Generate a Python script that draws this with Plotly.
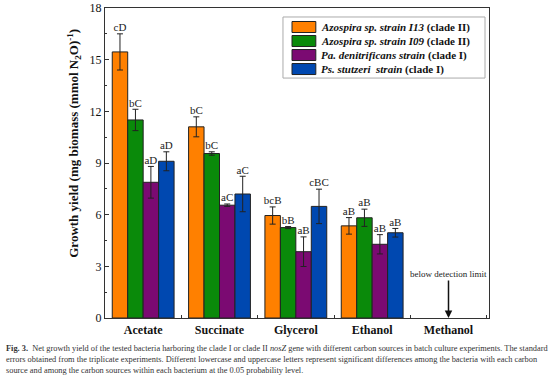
import plotly.graph_objects as go

categories = ["Acetate", "Succinate", "Glycerol", "Ethanol", "Methanol"]
series_names = [
    "<b><i>Azospira sp. strain I13</i> (clade II)</b>",
    "<b><i>Azospira sp. strain I09</i> (clade II)</b>",
    "<b><i>Pa. denitrificans strain</i> (clade I)</b>",
    "<b><i>Ps. stutzeri  strain</i> (clade I)</b>",
]
colors = ["#FF8000", "#0A8A0A", "#7B0A72", "#0048B0"]

i13_vals = [15.45, 11.10, 5.95, 5.35, None]
i13_err = [1.05, 0.58, 0.50, 0.48, None]
i09_vals = [11.50, 9.55, 5.25, 5.82, None]
i09_err = [0.62, 0.10, 0.06, 0.50, None]
pa_vals = [7.88, 6.55, 3.85, 4.28, None]
pa_err = [0.92, 0.07, 0.86, 0.56, None]
ps_vals = [9.10, 7.20, 6.48, 4.95, None]
ps_err = [0.55, 1.03, 1.00, 0.25, None]

i13_lbl = ["cD", "bC", "bcB", "aB", None]
i09_lbl = ["bC", "bC", "bB", "aB", None]
pa_lbl = ["aD", "aC", "aB", "aB", None]
ps_lbl = ["aD", "aC", "cBC", "aB", None]

values = [i13_vals, i09_vals, pa_vals, ps_vals]
errors = [i13_err, i09_err, pa_err, ps_err]
labels = [i13_lbl, i09_lbl, pa_lbl, ps_lbl]

serif = "Liberation Serif"
GAP = 0.19

fig = go.Figure()
for k in range(4):
    fig.add_trace(go.Bar(
        x=categories, y=values[k], name=series_names[k],
        marker=dict(color=colors[k], line=dict(color="#222222", width=1)),
        error_y=dict(type="data", array=errors[k], visible=True,
                     color="#222222", thickness=1, width=3),
        offsetgroup=str(k), showlegend=False,
    ))
for k in range(4):
    xs, tops, txt = [], [], []
    for c, v, e, t in zip(categories, values[k], errors[k], labels[k]):
        if v is None or t is None:
            continue
        xs.append(c)
        tops.append(v + e)
        txt.append(t)
    fig.add_trace(go.Scatter(
        x=xs, y=tops, mode="text", text=txt,
        textposition="top center",
        textfont=dict(family=serif, size=11, color="#222222"),
        showlegend=False, hoverinfo="skip", offsetgroup=str(k),
    ))

fig.update_layout(
    width=554, height=377,
    margin=dict(l=105, r=65, t=8, b=59, autoexpand=False),
    paper_bgcolor="white", plot_bgcolor="white",
    barmode="group", bargap=GAP, bargroupgap=0,
    scattermode="group", scattergap=GAP,
    font=dict(family=serif, color="#111111"),
    showlegend=False,
    xaxis=dict(
        automargin=False,
        showline=True, linecolor="#333333", linewidth=1.2, mirror=True,
        ticks="inside", tickson="boundaries", ticklen=3, tickcolor="#333333",
        tickfont=dict(family=serif, size=12, color="#111111"),
        tickprefix="<b>", ticksuffix="</b>",
    ),
    yaxis=dict(
        automargin=False,
        range=[0, 18], tickvals=[0, 3, 6, 9, 12, 15, 18],
        showline=True, linecolor="#333333", linewidth=1.2, mirror=True,
        ticks="inside", ticklen=4, tickcolor="#333333",
        minor=dict(dtick=1.5, ticks="inside", ticklen=2, tickcolor="#333333"),
        showgrid=False, zeroline=False,
        tickfont=dict(family=serif, size=12, color="#111111"),
        tickprefix="<b>", ticksuffix="</b>",
    ),
)

# y-axis title (placed slightly above centre, as in the reference)
fig.add_annotation(
    x=-0.081, y=0.565, xref="paper", yref="paper", textangle=-90,
    xanchor="center", yanchor="middle", showarrow=False,
    text="<b>Growth yield (mg biomass (mmol N<sub>2</sub>O)<sup>-1</sup>)</b>",
    font=dict(family=serif, size=13, color="#111111"),
)

# legend box
lx0, lx1, ly0, ly1 = 0.4635, 0.9896, 0.774, 0.971
fig.add_shape(type="rect", xref="paper", yref="paper", x0=lx0, x1=lx1, y0=ly0, y1=ly1,
              line=dict(color="#aaaaaa", width=1), fillcolor="white", layer="above")
row0, step, sw_h = 0.9387, 0.0452, 0.0355
for k in range(4):
    yc = row0 - k * step
    fig.add_shape(type="rect", xref="paper", yref="paper",
                  x0=0.487, x1=0.549, y0=yc - sw_h / 2, y1=yc + sw_h / 2,
                  line=dict(color="#222222", width=1), fillcolor=colors[k], layer="above")
    fig.add_annotation(x=0.558, y=yc, xref="paper", yref="paper",
                       xanchor="left", yanchor="middle", showarrow=False,
                       text=series_names[k],
                       font=dict(family=serif, size=11, color="#111111"))

fig.add_annotation(
    x="Methanol", y=0, xref="x", yref="y", ax=0, ay=-44,
    text="below detection limit", showarrow=True,
    arrowhead=2, arrowsize=1, arrowwidth=1.5, arrowcolor="#111111",
    font=dict(family=serif, size=9, color="#222222"),
)

caption = [
    "<b>Fig. 3.</b>  Net growth yield of the tested bacteria harboring the clade I or clade II <i>nosZ</i> gene with different carbon sources in batch culture experiments. The standard",
    "errors obtained from the triplicate experiments. Different lowercase and uppercase letters represent significant differences among the bacteria with each carbon",
    "source and among the carbon sources within each bacterium at the 0.05 probability level.",
]
cap_y = [-0.097, -0.134, -0.169]
for line, yy in zip(caption, cap_y):
    fig.add_annotation(
        x=-0.263, y=yy, xref="paper", yref="paper", xanchor="left", yanchor="middle",
        text=line, showarrow=False, align="left",
        font=dict(family=serif, size=8.35, color="#333333"),
    )

fig.write_html("out.html", config={"displayModeBar": False},
               post_script="document.body.style.margin='0';document.body.style.padding='0';")
